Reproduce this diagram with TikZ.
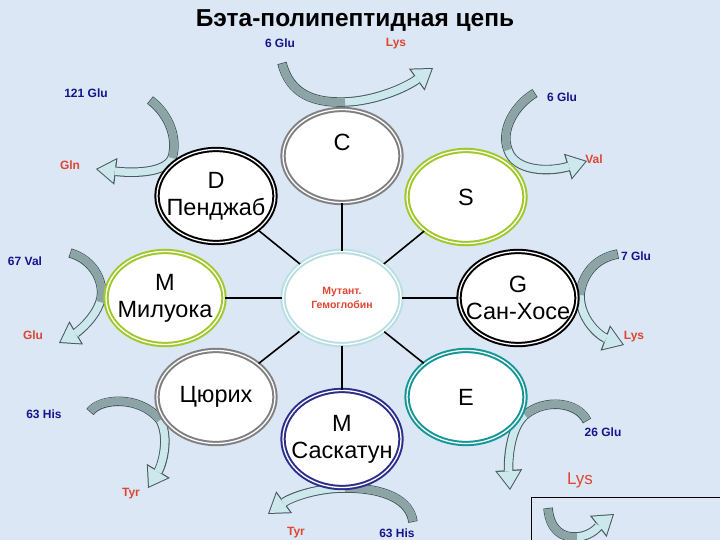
\documentclass[tikz,border=0pt]{standalone}
\usepackage{fontspec}
\setmainfont{Liberation Sans}
\usepackage{tikz}
\usetikzlibrary{shapes.geometric, arrows.meta}

\definecolor{bgblue}{RGB}{219,231,245}
\definecolor{glublue}{RGB}{20,20,140}
\definecolor{lysred}{RGB}{222,70,50}
\definecolor{ovgray}{RGB}{128,128,128}
\definecolor{ovgreen}{RGB}{160,200,40}
\definecolor{ovcyan}{RGB}{185,222,228}
\definecolor{ovteal}{RGB}{20,150,150}
\definecolor{ovnavy}{RGB}{45,45,140}
\definecolor{arrline}{RGB}{70,90,92}
\definecolor{arrtail}{RGB}{140,164,166}
\definecolor{arrhead}{RGB}{205,232,236}

\tikzset{
	oval/.style={ellipse, draw=#1, double=white, double distance=1.3pt, line width=2pt,
		fill=white, minimum width=118pt, minimum height=93pt, inner sep=0pt, align=center,
		font=\fontsize{23.5}{27}\selectfont},
	glu/.style={text=glublue, inner sep=0pt, font=\bfseries\fontsize{12}{14}\selectfont},
	lys/.style={text=lysred, inner sep=0pt, font=\bfseries\fontsize{12}{14}\selectfont},
	spoke/.style={line width=1.6pt, black},
	bandout/.style={line width=9.5pt, draw=arrline, -{Triangle[length=20pt,width=27pt,line width=0pt]}},
	bandin/.style={line width=7.5pt, draw=arrhead, shorten <=1pt, shorten >=1.8pt,
		-{Triangle[length=17pt,width=23pt,line width=0pt]}},
	bandtail/.style={line width=7.5pt, draw=arrtail, shorten <=1pt}
}

% text line that may stick out of its oval
\newcommand{\wide}[1]{\makebox[0pt]{#1}}

% curved block arrow: start, two controls, middle, two controls, end
\newcommand{\bentarrow}[7]{%
	\draw[bandout] (#1) .. controls (#2) and (#3) .. (#4) .. controls (#5) and (#6) .. (#7);
	\draw[bandin] (#1) .. controls (#2) and (#3) .. (#4) .. controls (#5) and (#6) .. (#7);
	\draw[bandtail] (#1) .. controls (#2) and (#3) .. (#4);}

\begin{document}
\begin{tikzpicture}[x=1pt,y=-1pt]
	\fill[bgblue] (0,0) rectangle (720,540);
	\useasboundingbox (0,0) rectangle (720,540);
	
	\node[font=\bfseries\fontsize{24.5}{28}\selectfont](Title) at (355,21){Бэта-полипептидная цепь};
	
	% substitutions
	\node[glu](Glu6a) at (280,43){6 Glu};
	\node[lys](Lys6a) at (396,44){Lys};
	\node[glu](Glu121) at (86,93){121 Glu};
	\node[glu](Glu6b) at (562,97){6 Glu};
	\node[lys](Gln121) at (70,165){Gln};
	\node[lys](Val6) at (594,159){Val};
	\node[glu](Val67) at (25,261){67 Val};
	\node[glu](Glu7) at (636,256){7 Glu};
	\node[lys](Glu67) at (33,335){Glu};
	\node[lys](Lys7) at (634,337){Lys};
	\node[glu](His63a) at (44,414){63 His};
	\node[glu](Glu26) at (603,432){26 Glu};
	\node[lys](Tyr63a) at (131,494){Tyr};
	\node[text=lysred, inner sep=0pt, font=\fontsize{17}{19}\selectfont](Lys26) at (580,480){Lys};
	\node[lys](Tyr63b) at (296,533){Tyr};
	\node[glu](His63b) at (397,533){63 His};
	
	% arrows
	\coordinate(A1s) at (282,63);
	\coordinate(A1e) at (433,68);
	\bentarrow{A1s}{290,95}{315,103}{345,102}{375,101}{405,88}{A1e}
	\coordinate(A2s) at (150,100);
	\coordinate(A2e) at (96,169);
	\bentarrow{A2s}{170,115}{178,140}{172,158}{165,174}{130,173}{A2e}
	\coordinate(A3s) at (535,93);
	\coordinate(A3e) at (587,161);
	\bentarrow{A3s}{515,105}{500,130}{508,150}{515,172}{550,172}{A3e}
	\coordinate(A4s) at (70,253);
	\coordinate(A4e) at (59,343);
	\bentarrow{A4s}{95,260}{106,285}{100,302}{94,320}{76,333}{A4e}
	\coordinate(A5s) at (618,254);
	\coordinate(A5e) at (624,345);
	\bentarrow{A5s}{595,258}{582,275}{580,295}{580,320}{600,336}{A5e}
	\coordinate(A6s) at (90,412);
	\coordinate(A6e) at (148,488);
	\bentarrow{A6s}{100,398}{140,395}{160,420}{170,438}{162,465}{A6e}
	\coordinate(A7s) at (413,522);
	\coordinate(A7e) at (268,514);
	\bentarrow{A7s}{410,500}{385,488}{345,488}{315,488}{290,498}{A7e}
	\coordinate(A8s) at (587,421);
	\coordinate(A8e) at (510,490);
	\bentarrow{A8s}{578,402}{545,398}{525,415}{510,428}{508,460}{A8e}
	
	% mutants
	\node[oval=ovcyan, text=lysred, font=\bfseries\fontsize{10.5}{14}\selectfont](Mut) at (342,298){Мутант.\\Гемоглобин};
	\node[oval=ovgray](C) at (342,156){C\\\mbox{}};
	\node[oval=black](D) at (216,196){D\\\wide{Пенджаб}};
	\node[oval=ovgreen](S) at (466,197){S};
	\node[oval=ovgreen](Mil) at (165,298){M\\\wide{Милуока}};
	\node[oval=black](G) at (518,298){G\\\wide{Сан-Хосе}};
	\node[oval=ovgray](Zur) at (216,397){\wide{Цюрих}};
	\node[oval=ovteal](E) at (466,397){E};
	\node[oval=ovnavy, minimum height=97pt](Sask) at (342,439){M\\\wide{Саскатун}};
	
	\draw[spoke](Mut)--(C);
	\draw[spoke](Mut)--(D);
	\draw[spoke](Mut)--(S);
	\draw[spoke](Mut)--(Mil);
	\draw[spoke](Mut)--(G);
	\draw[spoke](Mut)--(Zur);
	\draw[spoke](Mut)--(E);
	\draw[spoke](Mut)--(Sask);
	
	% legend box
	\draw[thin] (531,497) rectangle (725,545);
	\coordinate(B1s) at (548,508);
	\coordinate(B1e) at (614,514);
	\bentarrow{B1s}{550,530}{562,538}{577,537}{592,536}{600,525}{B1e}
\end{tikzpicture}
\end{document}
